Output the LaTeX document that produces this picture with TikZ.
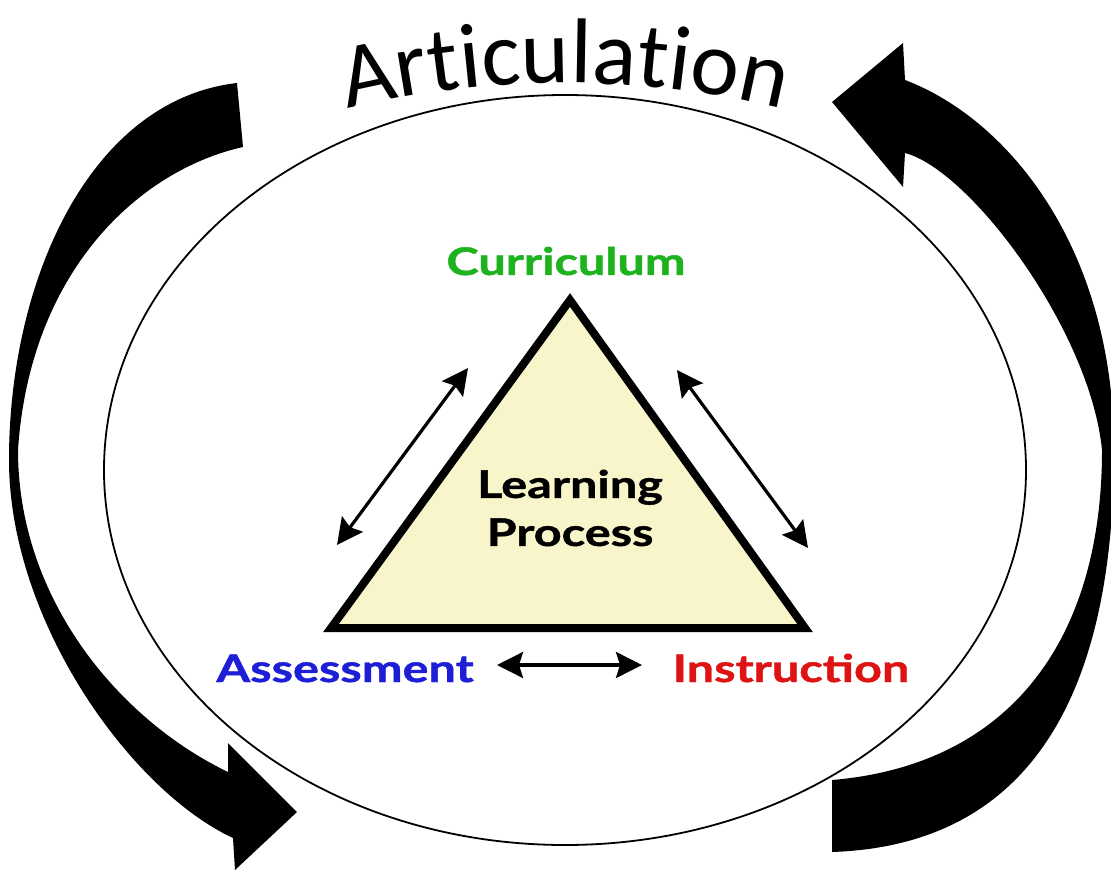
\documentclass[tikz,border=0pt]{standalone}
\usepackage{fontspec}
\usetikzlibrary{arrows.meta, decorations.text}
\newfontfamily\artfont{Carlito}
\newfontfamily\conceptfont{Lato}[FakeStretch=1.28, BoldFeatures={FakeBold=1.2}]

\definecolor{currgreen}{RGB}{30, 178, 30}
\definecolor{assblue}{RGB}{30, 30, 215}
\definecolor{instred}{RGB}{222, 20, 20}
\definecolor{trifill}{RGB}{248, 245, 202}

\begin{document}
\begin{tikzpicture}[x=.5pt, y=-.5pt, thick,
	concept/.style={font=\conceptfont\bfseries\fontsize{19}{24}\selectfont},
	twoway/.style={line width=1.6pt, {Stealth[length=13pt, width=13pt, inset=2pt]}-{Stealth[length=13pt, width=13pt, inset=2pt]}}]
	\useasboundingbox (0, 0) rectangle (1111, 871);

	% \drawconcept#name#x#y#color#text
	\def\drawconcept#1#2#3#4#5{
		\node[concept, text=#4, anchor=base, inner sep=0pt] (#1) at (#2, #3) {#5};
	}

	% ring
	\draw[line width=.9pt] (565, 470) ellipse [x radius=461, y radius=375];

	% articulation
	\coordinate (arcl) at (297, 123);
	\coordinate (arcr) at (833, 123);
	\path[decorate, decoration={text along path, text align=center,
		text={|\artfont\fontsize{46}{50}\selectfont|Articulation}}]
		(arcl) .. controls (471.5, 69.7) and (658.5, 69.7) .. (arcr);

	% big arrows
	\fill (237, 83) .. controls (90, 100) and (9, 280) .. (9, 460)
		.. controls (9, 620) and (130, 790) .. (233, 838)
		-- (235, 870) -- (297, 812) -- (228, 743) -- (228, 772)
		.. controls (120, 720) and (18, 600) .. (18, 450)
		.. controls (30, 270) and (140, 170) .. (243, 147) -- cycle;
	\fill (832, 852) .. controls (1040, 845) and (1114, 680) .. (1114, 450)
		.. controls (1114, 250) and (1010, 120) .. (905, 80)
		-- (903, 43) -- (832, 102) -- (903, 187) -- (905, 153)
		.. controls (970, 170) and (1090, 330) .. (1102, 450)
		.. controls (1102, 640) and (1010, 765) .. (832, 780) -- cycle;

	% triangle
	\coordinate (apex) at (570, 300);
	\coordinate (left) at (331, 628);
	\coordinate (right) at (805, 628);
	\filldraw[fill=trifill, line width=4pt] (apex) -- (left) -- (right) -- cycle;
	\node[concept, align=center, inner sep=0pt] (process) at (570, 508) {Learning\\Process};

	% concepts
	\drawconcept{curriculum}{566}{275}{currgreen}{Curriculum}
	\drawconcept{assessment}{345}{682}{assblue}{Assessment}
	\drawconcept{instruction}{791}{682}{instred}{Instruction}

	% links
	\coordinate (ca1) at (337, 545);
	\coordinate (ca2) at (468, 368);
	\coordinate (ci1) at (677, 370);
	\coordinate (ci2) at (808, 548);
	\coordinate (ai1) at (497, 665);
	\coordinate (ai2) at (642, 665);
	\draw[twoway] (ca1) -- (ca2);
	\draw[twoway] (ci1) -- (ci2);
	\draw[twoway] (ai1) -- (ai2);
\end{tikzpicture}
\end{document}
